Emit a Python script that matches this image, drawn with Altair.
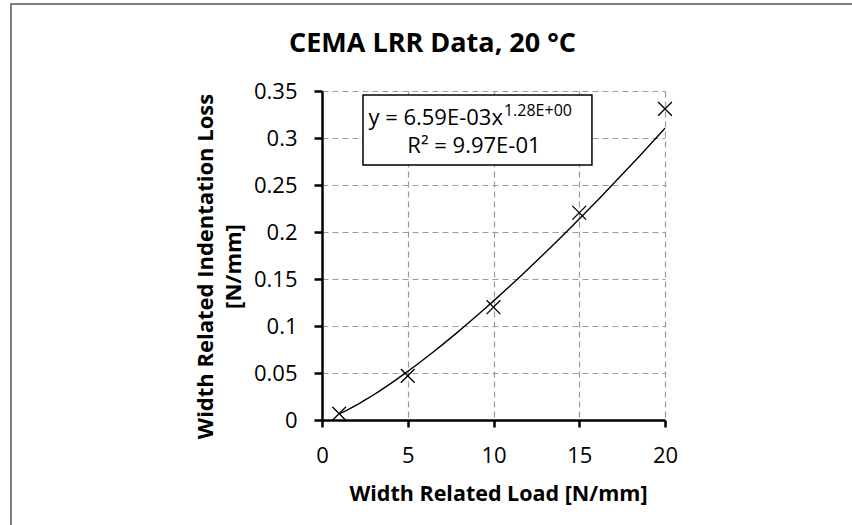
import altair as alt
import pandas as pd

# ---- data ----
load = [1, 5, 10, 15, 20]
loss = [0.0068, 0.047, 0.120, 0.2205, 0.331]
x_ticks = [0, 5, 10, 15, 20]
y_ticks = [0, 0.05, 0.1, 0.15, 0.2, 0.25, 0.3, 0.35]
title_text = "CEMA LRR Data, 20 °C"
x_title = "Width Related Load [N/mm]"
y_title = ["Width Related Indentation Loss", "[N/mm]"]
eq_main = "y = 6.59E-03x"
eq_sup = "1.28E+00"
r2_text = "R² = 9.97E-01"

FONT = "Open Sans"
W, H = 343, 329
LEFT, TOP = 322, 91

df = pd.DataFrame({"x": load, "y": loss})

xs = alt.Scale(domain=[0, 20], nice=False, zero=False)
ys = alt.Scale(domain=[0, 0.35], nice=False)

x_axis = alt.Axis(
    values=x_ticks, title=x_title, grid=True, gridDash=[6, 4], gridColor="#9a9a9a", gridWidth=1.2,
    domainColor="black", domainWidth=2.5, tickColor="black", tickWidth=2.5, tickSize=7,
    labelFont=FONT, labelFontSize=22, labelColor="black", labelBaseline="alphabetic",
    labelPadding=35, labelFlush=False, labelOverlap=False,
    titleFont=FONT, titleFontSize=21.5, titleFontWeight="bold", titleColor="black",
    titleX=176, titleY=80, titleBaseline="alphabetic", titleAlign="center",
)
y_axis = alt.Axis(
    values=y_ticks, format=".2~f", title=y_title, grid=True, gridDash=[6, 4], gridColor="#9a9a9a",
    gridWidth=1.2, domainColor="black", domainWidth=2.5, tickColor="black", tickWidth=2.5, tickSize=8,
    labelFont=FONT, labelFontSize=22, labelColor="black", labelPadding=17, labelOverlap=False,
    labelFlush=False,
    titleFont=FONT, titleFontSize=22, titleFontWeight="bold", titleColor="black",
    titleX=-117, titleY=175, titleBaseline="middle", titleAlign="center", titleAngle=270,
    titleLineHeight=28,
)

X = alt.X("x:Q", scale=xs, axis=x_axis)
Y = alt.Y("y:Q", scale=ys, axis=y_axis)

# outer frame (only top/left edges fall inside the picture)
frame = alt.Chart(pd.DataFrame({"a": [0]})).mark_rect(
    fill=None, stroke="#808080", strokeWidth=2
).encode(
    x=alt.value(11 - LEFT), x2=alt.value(900), y=alt.value(4 - TOP), y2=alt.value(700)
)

# equation box (data units)
box_df = pd.DataFrame({"x": [2.39], "x2": [15.74], "y": [0.2713], "y2": [0.3457]})
box = alt.Chart(box_df).mark_rect(fill="white", stroke="black", strokeWidth=1.5).encode(
    x=X, x2="x2:Q", y=Y, y2="y2:Q"
)

main_df = pd.DataFrame({"x": [10.55], "y": [0.3138], "t": [eq_main]})
sup_df = pd.DataFrame({"x": [10.61], "y": [0.3234], "t": [eq_sup]})
r2_df = pd.DataFrame({"x": [8.86], "y": [0.284], "t": [r2_text]})

t_main = alt.Chart(main_df).mark_text(
    font=FONT, fontSize=22, align="right", baseline="alphabetic", color="black"
).encode(x=X, y=Y, text="t:N")
t_sup = alt.Chart(sup_df).mark_text(
    font=FONT, fontSize=16, align="left", baseline="alphabetic", color="black"
).encode(x=X, y=Y, text="t:N")
t_r2 = alt.Chart(r2_df).mark_text(
    font=FONT, fontSize=22, align="center", baseline="alphabetic", color="black"
).encode(x=X, y=Y, text="t:N")

trend = alt.Chart(df).transform_regression("x", "y", method="pow").mark_line(
    color="black", strokeWidth=1.4
).encode(x=X, y=Y)

pts = alt.Chart(df).mark_point(
    shape="M-1,-1L1,1M-1,1L1,-1", size=190, filled=False, color="black",
    strokeWidth=1.3, opacity=1
).encode(x=X, y=Y)

chart = alt.layer(frame, box, t_main, t_sup, t_r2, trend, pts).properties(
    width=W, height=H,
    autosize=alt.AutoSizeParams(type="none"),
    padding={"left": LEFT, "top": TOP, "right": 852 - LEFT - W, "bottom": 525 - TOP - H},
    title=alt.TitleParams(
        title_text, anchor="middle", dx=-61, font=FONT, fontSize=27, fontWeight="bold",
        color="black", offset=-76, baseline="alphabetic",
    ),
    background="white",
).configure_view(stroke=None)

chart.save("out.html", embed_options={"renderer": "svg", "actions": False})
